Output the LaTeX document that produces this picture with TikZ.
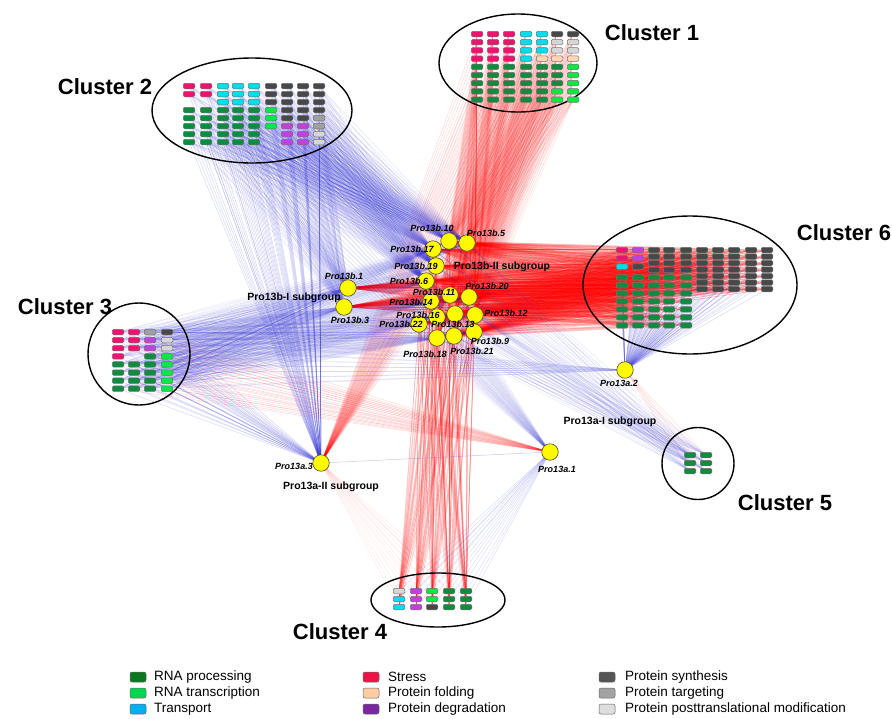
\documentclass[tikz,border=0pt]{standalone}
\usepackage{fontspec}
\setmainfont{Liberation Sans}
\pgfdeclarelayer{bgw}
\pgfdeclarelayer{edges}
\pgfsetlayers{bgw,edges,main}
\definecolor{cS}{RGB}{236,20,110}
\definecolor{cG}{RGB}{16,140,64}
\definecolor{cLG}{RGB}{10,232,70}
\definecolor{cT}{RGB}{0,222,236}
\definecolor{cF}{RGB}{255,214,178}
\definecolor{cD}{RGB}{196,64,218}
\definecolor{cP}{RGB}{72,72,72}
\definecolor{cTG}{RGB}{160,160,160}
\definecolor{cM}{RGB}{214,214,214}
\definecolor{lRP}{RGB}{10,120,30}
\definecolor{lRT}{RGB}{0,214,80}
\definecolor{lT}{RGB}{0,176,240}
\definecolor{lS}{RGB}{240,20,70}
\definecolor{lF}{RGB}{255,205,160}
\definecolor{lD}{RGB}{122,40,160}
\definecolor{lP}{RGB}{84,84,84}
\definecolor{lTG}{RGB}{162,162,162}
\definecolor{lM}{RGB}{222,222,222}
\definecolor{eR}{RGB}{255,0,0}
\definecolor{eB}{RGB}{40,40,220}
\definecolor{hubY}{RGB}{255,250,0}
\newcount\bxn
\newcommand\startcl{\global\bxn=0 }
\newcommand\savecl[1]{\expandafter\xdef\csname n#1\endcsname{\the\bxn}}
\newcommand\bcol[5]{%
  \foreach \cc [count=\r from 0] in {#5}{%
    \global\advance\bxn by 1
    \node[bx,fill=\cc] (#1-\the\bxn) at (#2,{#3+\r*#4}) {};
  }}
\newcommand\edgeset[3]{%
  \edef\nn{\csname n#3\endcsname}%
  \foreach \h in {#2}{\foreach \i in {1,...,\nn}{\draw[#1] (\h.center) -- (#3-\i.center);}}}
\tikzset{
  bx/.style={draw=black!55, line width=0.5pt, rounded corners=1.3pt, minimum width=11.5pt, minimum height=5.5pt, inner sep=0pt},
  hub/.style={circle, fill=hubY, draw=black!55!olive, line width=0.6pt, minimum size=16.5pt, inner sep=0pt},
  hlab/.style={font=\fontsize{9}{10}\selectfont\bfseries\itshape, inner sep=0pt},
  sub/.style={font=\fontsize{10.5}{12}\selectfont\bfseries, inner sep=0pt},
  clab/.style={font=\fontsize{22}{24}\selectfont\bfseries, inner sep=0pt},
  ring/.style={draw=black, line width=1.4pt},
  redE/.style={draw=eR, draw opacity=#1, line width=0.5pt},
  blueE/.style={draw=eB, draw opacity=#1, line width=0.5pt},
  sw/.style={draw=black!60, line width=0.5pt, rounded corners=2pt, minimum width=16pt, minimum height=10pt, inner sep=0pt},
  ltxt/.style={font=\fontsize{13.5}{14}\selectfont, anchor=west, inner sep=0pt},
}
\begin{document}
\begin{tikzpicture}[x=1pt,y=-1pt]
\useasboundingbox (0,0) rectangle (892,718);
\begin{pgfonlayer}{bgw}
\fill[white] (0,0) rectangle (892,718);
\end{pgfonlayer}
% cluster rings
\draw[ring] (518,63) ellipse [x radius=79pt, y radius=49pt];
\draw[ring] (252,110.5) ellipse [x radius=100pt, y radius=52.5pt];
\draw[ring] (690,285) ellipse [x radius=107pt, y radius=69pt];
\draw[ring] (139,354) circle [radius=51pt];
\draw[ring] (438,600) ellipse [x radius=67pt, y radius=27pt];
\draw[ring] (698,463.5) circle [radius=36pt];
% cluster 1
\startcl
\bcol{ka}{477}{34}{8.2}{cS,cS,cS,cS,cG,cG,cG,cG,cG}
\bcol{ka}{493}{34}{8.2}{cS,cS,cS,cS,cG,cG,cG,cG,cG}
\bcol{ka}{509}{34}{8.2}{cS,cS,cS,cS,cG,cG,cG,cG,cG}
\bcol{ka}{526}{34}{8.2}{cT,cT,cT,cT,cG,cG,cG,cG,cG}
\bcol{ka}{542}{34}{8.2}{cT,cT,cT,cF,cG,cG,cG,cG,cG}
\bcol{ka}{557}{34}{8.2}{cP,cM,cM,cF,cG,cG,cG,cLG,cLG}
\bcol{ka}{573}{34}{8.2}{cP,cM,cM,cF,cLG,cLG,cLG,cLG,cLG}
\savecl{ka}
% cluster 2
\startcl
\bcol{kb}{189}{86}{8}{cS,cS}
\bcol{kb}{189}{110}{8}{cG,cG,cG,cG,cG}
\bcol{kb}{206}{86}{8}{cS,cS}
\bcol{kb}{206}{110}{8}{cG,cG,cG,cG,cG}
\bcol{kb}{223}{86}{8}{cT,cT,cT,cG,cG,cG,cG,cG}
\bcol{kb}{238}{86}{8}{cT,cT,cT,cG,cG,cG,cG,cG}
\bcol{kb}{254}{86}{8}{cT,cT,cT,cG,cG,cG,cG,cG}
\bcol{kb}{271}{86}{8}{cP,cP,cP,cLG,cLG,cLG}
\bcol{kb}{287}{86}{8}{cP,cP,cP,cP,cP,cD,cD,cD}
\bcol{kb}{303}{86}{8}{cP,cP,cP,cP,cP,cD,cD,cD}
\bcol{kb}{319}{86}{8}{cP,cP,cP,cP,cTG,cTG,cM,cM}
\savecl{kb}
% cluster 6
\startcl
\bcol{kf}{622}{250}{8.3}{cS,cS,cT}
\bcol{kf}{622}{277.3}{8}{cG,cG,cG,cG,cG,cG,cG}
\bcol{kf}{638}{250}{8.3}{cD,cD,cP}
\bcol{kf}{638}{277.3}{8}{cG,cG,cG,cG,cG,cG,cG}
\foreach \xx in {654,669,686}{%
  \bcol{kf}{\xx}{250}{6.6}{cP,cP,cP,cP}
  \bcol{kf}{\xx}{277.3}{8}{cG,cG,cG,cG,cG,cG,cG}}
\foreach \xx in {702,718,734,751,767}{%
  \bcol{kf}{\xx}{250}{6.5}{cP,cP,cP,cP,cP,cP,cP}}
\savecl{kf}
% cluster 3
\startcl
\bcol{kc}{118}{332}{8.1}{cS,cS,cS,cS,cG,cG,cG,cG}
\bcol{kc}{134}{332}{8.1}{cS,cS,cS}
\bcol{kc}{134}{364.4}{8.1}{cG,cG,cG,cG}
\bcol{kc}{150}{332}{8.1}{cTG,cD,cD,cG,cG,cG,cG,cG}
\bcol{kc}{167}{332}{8.1}{cP,cM,cM,cLG,cLG,cLG,cLG,cLG}
\savecl{kc}
% cluster 4
\startcl
\bcol{kd}{399}{591}{8}{cM,cT,cT}
\bcol{kd}{416}{591}{8}{cD,cD,cD}
\bcol{kd}{432}{591}{8}{cLG,cLG,cP}
\bcol{kd}{449}{591}{8}{cG,cG,cG}
\bcol{kd}{466}{591}{8}{cG,cG,cG}
\savecl{kd}
% cluster 5
\startcl
\bcol{ke}{690}{455}{8}{cG,cG,cG}
\bcol{ke}{706}{455}{8}{cG,cG,cG}
\savecl{ke}
% hub nodes
\node[hub] (b10) at (449,241) {};
\node[hub] (b5) at (467,243) {};
\node[hub] (b17) at (433,249) {};
\node[hub] (b19) at (436,266) {};
\node[hub] (b6) at (426,281) {};
\node[hub] (b1) at (348,288) {};
\node[hub] (b3) at (344,307) {};
\node[hub] (b11) at (450,295) {};
\node[hub] (b20) at (469,297) {};
\node[hub] (b14) at (431,301) {};
\node[hub] (b16) at (437,317) {};
\node[hub] (b13) at (455,314) {};
\node[hub] (b12) at (475,315) {};
\node[hub] (b22) at (419,324) {};
\node[hub] (b18) at (437,338) {};
\node[hub] (b21) at (454,336) {};
\node[hub] (b9) at (474,332) {};
\node[hub] (a3) at (321,463) {};
\node[hub] (a1) at (550,452) {};
\node[hub] (a2) at (625,370) {};
% hub labels
\node[hlab] (lb10) at (432,228) {Pro13b.10};
\node[hlab] (lb5) at (486,233) {Pro13b.5};
\node[hlab] (lb17) at (412,249) {Pro13b.17};
\node[hlab] (lb19) at (416,266) {Pro13b.19};
\node[hlab] (lb6) at (409,281) {Pro13b.6};
\node[hlab] (lb1) at (344,276) {Pro13b.1};
\node[hlab] (lb3) at (350,320) {Pro13b.3};
\node[hlab] (lb11) at (434,292) {Pro13b.11};
\node[hlab] (lb20) at (487,286) {Pro13b.20};
\node[hlab] (lb14) at (411,302) {Pro13b.14};
\node[hlab] (lb16) at (418,315) {Pro13b.16};
\node[hlab] (lb22) at (401,324.5) {Pro13b.22};
\node[hlab] (lb13) at (453,324) {Pro13b.13};
\node[hlab] (lb12) at (506,313) {Pro13b.12};
\node[hlab] (lb9) at (490,341) {Pro13b.9};
\node[hlab] (lb21) at (472,351) {Pro13b.21};
\node[hlab] (lb18) at (425,354) {Pro13b.18};
\node[hlab] (la3) at (294,466) {Pro13a.3};
\node[hlab] (la1) at (557,469) {Pro13a.1};
\node[hlab] (la2) at (619,383) {Pro13a.2};
% subgroup labels
\node[sub] (s1) at (294,298) {Pro13b-I subgroup};
\node[sub] (s2) at (502,267) {Pro13b-II subgroup};
\node[sub] (s3) at (610,422) {Pro13a-I subgroup};
\node[sub] (s4) at (331,487) {Pro13a-II subgroup};
% cluster labels
\node[clab] (t1) at (652,33) {Cluster 1};
\node[clab] (t2) at (105,87) {Cluster 2};
\node[clab] (t6) at (844,233) {Cluster 6};
\node[clab] (t3) at (65,307) {Cluster 3};
\node[clab] (t4) at (340,632) {Cluster 4};
\node[clab] (t5) at (785,503) {Cluster 5};
% legend
\node[sw, fill=lRP] (w1) at (138,677) {};
\node[ltxt] (x1) at (154,677) {RNA processing};
\node[sw, fill=lRT] (w2) at (138,693) {};
\node[ltxt] (x2) at (154,693) {RNA transcription};
\node[sw, fill=lT] (w3) at (138,709) {};
\node[ltxt] (x3) at (154,709) {Transport};
\node[sw, fill=lS] (w4) at (371,677) {};
\node[ltxt] (x4) at (388,677) {Stress};
\node[sw, fill=lF] (w5) at (371,693) {};
\node[ltxt] (x5) at (388,693) {Protein folding};
\node[sw, fill=lD] (w6) at (371,709) {};
\node[ltxt] (x6) at (388,709) {Protein degradation};
\node[sw, fill=lP] (w7) at (607,677) {};
\node[ltxt] (x7) at (625,677) {Protein synthesis};
\node[sw, fill=lTG] (w8) at (607,693) {};
\node[ltxt] (x8) at (625,693) {Protein targeting};
\node[sw, fill=lM] (w9) at (607,709) {};
\node[ltxt] (x9) at (625,709) {Protein posttranslational modification};
% edges
\begin{pgfonlayer}{edges}
\edgeset{redE=0.12}{b10,b5,b17,b19,b6,b11,b20,b14,b16,b13,b12,b22,b18,b21,b9}{kf}
\edgeset{redE=0.22}{b1,b3}{kf}
\edgeset{redE=0.09}{b10,b5,b11,b20,b13,b12,b9,b21,b16,b18}{ka}
\edgeset{redE=0.15}{b10,b5,b17,b19,b6,b11,b20,b14,b16,b13,b12,b22,b18,b21,b9}{kd}
\edgeset{redE=0.15}{a3}{ka}
\edgeset{redE=0.15}{a1}{kc}
\edgeset{redE=0.12}{a2}{ke}
\edgeset{redE=0.08}{a3}{kd}
\edgeset{blueE=0.13}{b10,b17,b19,b6,b5}{kb}
\edgeset{blueE=0.18}{a3}{kb}
\edgeset{blueE=0.07}{b10,b5,b17,b19,b6,b11,b20,b14,b16,b13,b12,b22,b18,b21,b9}{kc}
\edgeset{blueE=0.18}{a3}{kc}
\edgeset{blueE=0.18}{a2}{kf}
\edgeset{blueE=0.1}{b10,b5,b17,b19,b6,b11,b20,b14,b16,b13,b12,b22,b18,b21,b9}{ke}
\edgeset{blueE=0.15}{a1}{kd}
\edgeset{blueE=0.07}{a1}{kb}
\edgeset{blueE=0.07}{a2}{kc}
\edgeset{blueE=0.1}{b1,b3}{kb}
\edgeset{blueE=0.12}{b1,b3}{kc}
\draw[blueE=0.25] (a3.center) -- (a1.center);
\end{pgfonlayer}
\end{tikzpicture}
\end{document}
